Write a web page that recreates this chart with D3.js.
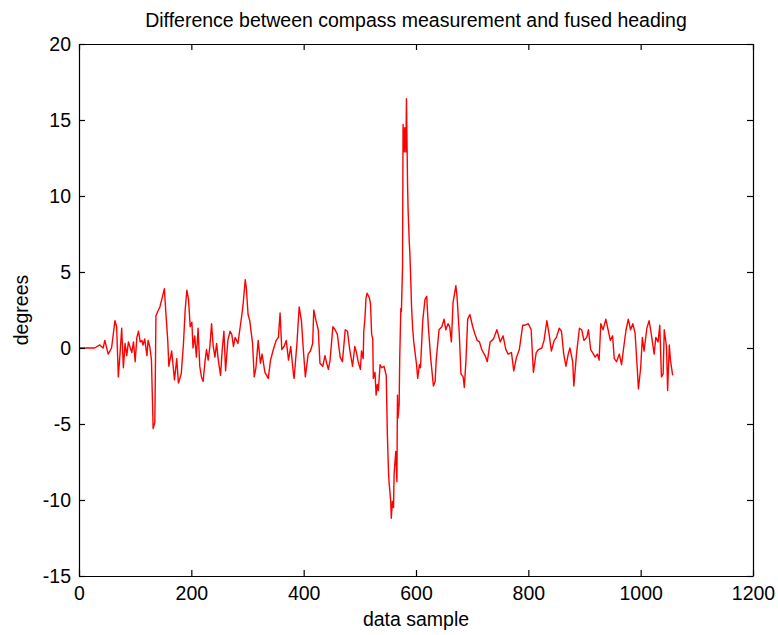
<!DOCTYPE html>
<html>
<head>
<meta charset="utf-8">
<script src="https://cdn.jsdelivr.net/npm/d3@7"></script>
<style>
  body { margin: 0; background: #fff; }
  svg text { font-family: "Liberation Sans", Arial, Helvetica, sans-serif; fill: #000; }
</style>
</head>
<body>
<div id="chart"></div>
<script>
// sample index (x) and heading difference in degrees (y)
const sampleIdx = [
  0, 28, 37, 43, 46, 52, 58, 64, 67, 70, 73, 76, 79, 82, 85, 88, 94, 97, 100, 103,
  106, 109, 112, 114, 117, 121, 123, 126, 129, 132, 135, 137, 140, 144, 148, 152, 154, 158, 160, 165,
  170, 174, 177, 182, 186, 189, 192, 195, 198, 201, 203, 206, 209, 212, 215, 218, 221, 224, 227, 230,
  233, 236, 239, 242, 245, 248, 252, 255, 258, 261, 265, 269, 272, 275, 278, 283, 287, 290, 292, 296,
  298, 301, 304, 309, 312, 315, 319, 323, 326, 331, 337, 341, 346, 351, 355, 358, 361, 365, 369, 373,
  377, 382, 383, 388, 392, 396, 399, 403, 408, 412, 416, 418, 422, 426, 429, 434, 438, 441, 444, 447,
  452, 456, 460, 465, 469, 474, 478, 482, 487, 491, 494, 497, 501, 503, 506, 507, 509, 511, 513, 517,
  519, 521, 523, 524, 527, 529, 531, 533, 536, 539, 543, 547, 549, 551, 552, 555, 556, 558, 560, 561,
  564, 566, 567, 568, 570, 571, 573, 574, 576, 577, 579, 580, 582, 583, 585, 586, 588, 589, 591, 592,
  594, 596, 598, 601, 603, 606, 608, 612, 616, 619, 622, 626, 631, 634, 636, 641, 646, 650, 653, 657,
  660, 663, 666, 671, 673, 677, 680, 684, 686, 689, 692, 696, 701, 705, 709, 713, 717, 723, 727, 732,
  738, 744, 750, 755, 760, 764, 770, 774, 779, 784, 790, 794, 800, 805, 809, 814, 818, 824, 828, 833,
  837, 841, 846, 850, 855, 859, 863, 867, 871, 874, 879, 881, 886, 891, 895, 899, 904, 907, 911, 916,
  919, 923, 926, 929, 933, 938, 942, 946, 950, 953, 957, 962, 966, 970, 974, 978, 982, 986, 990, 994,
  996, 1000, 1003, 1006, 1011, 1015, 1019, 1024, 1027, 1031, 1034, 1037, 1040, 1042, 1043, 1046, 1048, 1051, 1053, 1057
];
const headingDiff = [
  0, 0, 0.2, 0, 0.5, -0.4, 0, 1.8, 1.4, -1.9, -0.4, 1.3, -1.3, 0.3, -0.5, 0.4, -0.3, 0.4, -0.9, 0.7,
  1.1, 0.4, 0.5, 0.2, 0.6, -0.5, 0.5, 0.1, -0.8, -5.3, -4.9, 2.1, 2.4, 2.7, 3.3, 3.9, 2.7, 0.5, -1.2, -0.2,
  -2.1, -0.7, -2.3, -1.7, 0.3, 2.5, 3.8, 3.2, 1.4, 1.7, 0, 0.8, -0.6, 1.3, -1.2, -1.9, -2.2, -1.0, -0.1, -0.8,
  0.1, 1.6, 0.1, -0.6, 0.3, -0.8, -1.8, -0.1, 1.1, -1.5, 0.5, 1.1, 0.9, 0.1, 0.7, 0.3, 1.4, 2.2, 2.8, 4.5,
  3.9, 2.2, 1.8, 0.3, -1.9, -1.3, 0.5, -1.0, -0.4, -1.6, -2.0, -0.8, -0.1, 0.5, 0.7, 2.3, -0.1, 0.1, 0.5, -0.8,
  0.1, -1.8, -2.0, 0.3, 2.7, 1.8, 0.1, -1.9, -0.4, -0.2, 0.3, 2.5, 1.8, 1.2, -1.0, -1.2, -0.5, -1.0, -1.4, -0.8,
  1.4, 1.2, 0.9, -0.6, -0.9, 1.2, 1.1, -0.1, -1.2, 0.1, -0.3, -0.9, -1.4, -0.2, -0.7, 1.1, 1.9, 3.3, 3.6, 3.3,
  2.9, 0.9, 0.6, -2.0, -1.6, -3.1, -2.4, -2.8, -1.1, -1.3, -1.2, -1.8, -5.7, -8.1, -8.8, -10.1, -11.2, -10.1, -10.5, -8.3,
  -6.8, -8.8, -3.1, -4.6, -3.7, -0.7, 2.6, 2.4, 5.3, 14.7, 12.9, 14.5, 12.9, 16.4, 10.7, 9.0, 7.0, 6.3, 4.1, 2.8,
  1.3, 0.4, -0.2, -1.1, -2.0, -1.1, -1.3, 1.8, 3.2, 3.4, 1.4, -0.6, -2.5, -2.2, -0.8, 1.2, 1.4, 1.9, 1.2, 1.6,
  1.4, 0.4, 3.0, 4.1, 3.4, 1.0, -1.7, -1.9, -2.6, -0.8, 1.9, 2.2, 1.4, 0.9, 0.5, 0.4, -0.1, -0.5, -0.9, 0.4,
  0.6, 1.2, 0.4, 0.8, -0.1, -0.4, -0.3, -1.5, -0.6, -0.1, 1.5, 1.5, 1.6, 1.2, -1.6, -0.3, -0.1, 0, 0.5, 1.8,
  0.9, -0.2, 0.5, 0.7, 1.3, 1.1, -0.4, -1.2, -0.4, 0, -0.9, -2.5, -0.3, 1.3, 1.2, 0.5, 0.7, 1.2, -0.1, -0.4,
  -0.6, -0.4, -0.8, 1.6, 1.2, 1.9, 1.2, 0.5, 0.8, -0.7, -0.9, -0.4, -1.1, 0.1, 1.2, 1.9, 1.2, 1.6, 1.0, -1.4,
  -2.7, -1.3, 0.7, -0.2, 1.3, 1.8, 0.9, -0.4, 0.7, 0.4, 1.5, -1.9, -1.7, 1.2, 0.9, 0.1, -2.8, 0.2, -0.8, -1.8
];
const xTicks = [0, 200, 400, 600, 800, 1000, 1200];
const yTicks = [-15, -10, -5, 0, 5, 10, 15, 20];

const W = 778, H = 635;
const margin = { top: 44, right: 25, bottom: 59, left: 79 };
const iw = W - margin.left - margin.right;
const ih = H - margin.top - margin.bottom;

const svg = d3.select('#chart').append('svg').attr('width', W).attr('height', H);
const g = svg.append('g').attr('transform', `translate(${margin.left},${margin.top})`);

const x = d3.scaleLinear().domain([0, 1200]).range([0, iw]);
const y = d3.scaleLinear().domain([-15, 20]).range([ih, 0]);

const points = sampleIdx.map((s, i) => [s, headingDiff[i]]);

// signal
g.append('path')
  .datum(points)
  .attr('fill', 'none')
  .attr('stroke', '#ff0000')
  .attr('stroke-width', 1.4)
  .attr('stroke-linejoin', 'round')
  .attr('d', d3.line().x(d => x(d[0])).y(d => y(d[1])));

// axes: MATLAB-style box, ticks pointing inward on all sides
const tick = 6;
const fontSize = 19.5;
const plain = d => String(d);  // "-15", "1000" (no unicode minus, no thousands comma)

const axBottom = g.append('g').attr('transform', `translate(0,${ih})`)
  .call(d3.axisBottom(x).tickValues(xTicks).tickFormat(plain).tickSizeInner(-tick).tickSizeOuter(0).tickPadding(10));
const axTop = g.append('g')
  .call(d3.axisTop(x).tickValues(xTicks).tickSizeInner(-tick).tickSizeOuter(0).tickFormat(''));
const axLeft = g.append('g')
  .call(d3.axisLeft(y).tickValues(yTicks).tickFormat(plain).tickSizeInner(-tick).tickSizeOuter(0).tickPadding(8));
const axRight = g.append('g').attr('transform', `translate(${iw},0)`)
  .call(d3.axisRight(y).tickValues(yTicks).tickSizeInner(-tick).tickSizeOuter(0).tickFormat(''));

[axBottom, axTop, axLeft, axRight].forEach(a => {
  a.select('.domain').attr('stroke', '#000').attr('stroke-width', 1.2);
  a.selectAll('.tick line').attr('stroke', '#000').attr('stroke-width', 1.2);
  a.selectAll('.tick text')
    .attr('font-size', fontSize)
    .attr('font-family', '"Liberation Sans", Arial, sans-serif')
    .attr('fill', '#000');
});

// title and axis labels
svg.append('text')
  .attr('x', margin.left + iw / 2).attr('y', 27)
  .attr('text-anchor', 'middle')
  .attr('font-size', fontSize)
  .text('Difference between compass measurement and fused heading');

svg.append('text')
  .attr('x', margin.left + iw / 2).attr('y', 626)
  .attr('text-anchor', 'middle')
  .attr('font-size', fontSize)
  .text('data sample');

svg.append('text')
  .attr('transform', `translate(28,${margin.top + ih / 2}) rotate(-90)`)
  .attr('text-anchor', 'middle')
  .attr('font-size', fontSize)
  .text('degrees');
</script>
</body>
</html>
